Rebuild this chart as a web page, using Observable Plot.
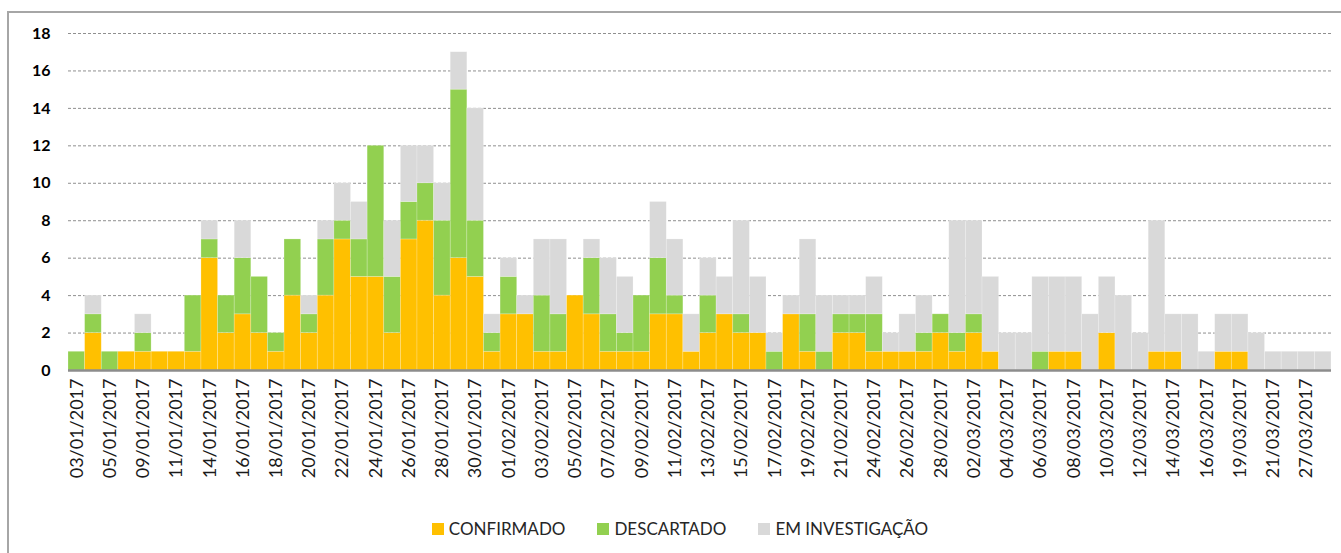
<!DOCTYPE html>
<html>
<head>
<meta charset="utf-8">
<script src="https://cdn.jsdelivr.net/npm/d3@7"></script>
<script src="https://cdn.jsdelivr.net/npm/@observablehq/plot@0.6"></script>
<style>
  html, body { margin: 0; padding: 0; background: #fff; width: 1341px; height: 553px; overflow: hidden; }
  body { position: relative; font-family: Lato, "Open Sans", sans-serif; }
  #frame { position: absolute; left: 7px; top: 11px; right: -20px; bottom: -20px; border-left: 2px solid #a6a6a6; border-top: 2px solid #a6a6a6; }
  #chart { position: absolute; left: 0; top: 0; }
  #legend { position: absolute; top: 518px; left: 0; width: 1360px; display: flex; justify-content: center; gap: 32px; font-size: 17px; color: #262626; }
  .item { display: flex; align-items: center; gap: 5px; }
  .sw { width: 12px; height: 12px; display: inline-block; }
</style>
</head>
<body>
<div id="frame"></div>
<div id="chart"></div>
<div id="legend"></div>
<script>
const dates = [
  "03/01/2017","04/01/2017","05/01/2017","06/01/2017","09/01/2017","10/01/2017","11/01/2017","12/01/2017",
  "14/01/2017","15/01/2017","16/01/2017","17/01/2017","18/01/2017","19/01/2017","20/01/2017","21/01/2017",
  "22/01/2017","23/01/2017","24/01/2017","25/01/2017","26/01/2017","27/01/2017","28/01/2017","29/01/2017",
  "30/01/2017","31/01/2017","01/02/2017","02/02/2017","03/02/2017","04/02/2017","05/02/2017","06/02/2017",
  "07/02/2017","08/02/2017","09/02/2017","10/02/2017","11/02/2017","12/02/2017","13/02/2017","14/02/2017",
  "15/02/2017","16/02/2017","17/02/2017","18/02/2017","19/02/2017","20/02/2017","21/02/2017","22/02/2017",
  "24/02/2017","25/02/2017","26/02/2017","27/02/2017","28/02/2017","01/03/2017","02/03/2017","03/03/2017",
  "04/03/2017","05/03/2017","06/03/2017","07/03/2017","08/03/2017","09/03/2017","10/03/2017","11/03/2017",
  "12/03/2017","13/03/2017","14/03/2017","15/03/2017","16/03/2017","17/03/2017","19/03/2017","20/03/2017",
  "21/03/2017","22/03/2017","27/03/2017","28/03/2017"
];
const confirmado = [
  0,2,0,1,1,1,1,1, 6,2,3,2,1,4,2,4, 7,5,5,2,7,8,4,6, 5,1,3,3,1,1,4,3,
  1,1,1,3,3,1,2,3, 2,2,0,3,1,0,2,2, 1,1,1,1,2,1,2,1, 0,0,0,1,1,0,2,0,
  0,1,1,0,0,1,1,0, 0,0,0,0
];
const descartado = [
  1,1,1,0,1,0,0,3, 1,2,3,3,1,3,1,3, 1,2,7,3,2,2,4,9, 3,1,2,0,3,2,0,3,
  2,1,3,3,1,0,2,0, 1,0,1,0,2,1,1,1, 2,0,0,1,1,1,1,0, 0,0,1,0,0,0,0,0,
  0,0,0,0,0,0,0,0, 0,0,0,0
];
const investigacao = [
  0,1,0,0,1,0,0,0, 1,0,2,0,0,0,1,1, 2,2,0,3,3,2,2,2, 6,1,1,1,3,4,0,1,
  3,3,0,3,3,2,2,2, 5,3,1,1,4,3,1,1, 2,1,2,2,0,6,5,4, 2,2,4,4,4,3,3,4,
  2,7,2,3,1,2,2,2, 1,1,1,1
];
const series = ["CONFIRMADO", "DESCARTADO", "EM INVESTIGAÇÃO"];
const colors = ["#ffc000", "#92d050", "#d9d9d9"];
const yTicks = [0, 2, 4, 6, 8, 10, 12, 14, 16, 18];
const labeledDates = dates.filter((d, i) => i % 2 === 0);

const values = [confirmado, descartado, investigacao];
const data = dates.flatMap((d, i) => series.map((s, k) => ({date: d, serie: s, value: values[k][i]})))
  .filter(r => r.value > 0);

const chart = Plot.plot({
  width: 1341,
  height: 500,
  marginLeft: 68,
  marginRight: 10,
  marginTop: 33,
  marginBottom: 130,
  style: {fontFamily: "Lato, sans-serif", color: "#000", background: "transparent"},
  x: {domain: dates, padding: 0, round: false, axis: null},
  y: {domain: [0, 18], axis: null},
  color: {domain: series, range: colors},
  marks: [
    Plot.ruleY(yTicks.filter(t => t > 0), {stroke: "#8f8f8f", strokeDasharray: "3,2", strokeWidth: 1}),
    Plot.barY(data, {x: "date", y: "value", fill: "serie", order: series, stroke: "#ffffff", strokeOpacity: 0.3, strokeWidth: 0.7}),
    Plot.ruleY([0], {stroke: "#8c8c8c", strokeWidth: 2.5}),
    Plot.axisY({ticks: yTicks, tickSize: 0, tickPadding: 18, fontSize: 16, fontWeight: "bold", label: null, tickFormat: d => String(d)}),
    Plot.axisX({ticks: labeledDates, tickSize: 0, tickRotate: -90, tickPadding: 8, fontSize: 18, label: null, fill: "#1a1a1a"})
  ]
});
document.getElementById("chart").appendChild(chart);

const legend = document.getElementById("legend");
series.forEach((s, k) => {
  const item = document.createElement("div");
  item.className = "item";
  const sw = document.createElement("span");
  sw.className = "sw";
  sw.style.background = colors[k];
  const tx = document.createElement("span");
  tx.textContent = s;
  item.appendChild(sw);
  item.appendChild(tx);
  legend.appendChild(item);
});
</script>
</body>
</html>
